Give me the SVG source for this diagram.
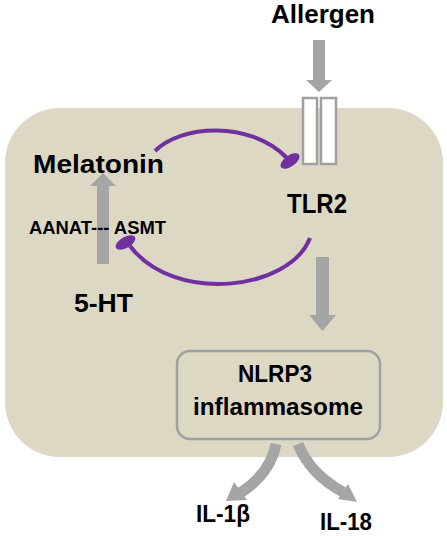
<svg xmlns="http://www.w3.org/2000/svg" width="447" height="536" viewBox="0 0 447 536">
<style>
text{font-family:"Liberation Sans",Arial,sans-serif;font-weight:bold;fill:#000;}
.gray{fill:#A5A5A5;}
.inh{fill:none;stroke:#7030A0;stroke-width:4;}
.head{fill:#7030A0;}
.box{fill:#DDD8C4;stroke:#A0A0A0;stroke-width:2.5;}
.rec{fill:#fff;stroke:#A0A0A0;stroke-width:2.5;}
.cshaft{fill:none;stroke:#A5A5A5;stroke-width:11;}
</style>
<rect id="cell" x="5" y="108" width="438" height="349" rx="55" ry="55" fill="#DDD8C4"/>
<g id="tlr2-receptor">
<rect class="rec" x="303" y="98" width="14" height="66"/>
<rect class="rec" x="321" y="98" width="15" height="66"/>
</g>
<g id="allergen"><text x="271" y="23" font-size="26" textLength="104" lengthAdjust="spacingAndGlyphs">Allergen</text></g>
<g id="melatonin"><text x="33" y="173" font-size="25" textLength="131" lengthAdjust="spacingAndGlyphs">Melatonin</text></g>
<g id="tlr2"><text x="287" y="213" font-size="27" textLength="60" lengthAdjust="spacingAndGlyphs">TLR2</text></g>
<g id="ht5"><text x="74" y="312" font-size="26" textLength="59" lengthAdjust="spacingAndGlyphs">5-HT</text></g>
<g id="nlrp3">
<rect class="box" x="177" y="351" width="203" height="88" rx="13" ry="13"/>
<text x="238" y="382" font-size="24" textLength="74" lengthAdjust="spacingAndGlyphs">NLRP3</text>
<text x="193" y="415" font-size="24" textLength="170" lengthAdjust="spacingAndGlyphs">inflammasome</text>
</g>
<g id="il1b"><text x="196" y="522" font-size="24" textLength="54" lengthAdjust="spacingAndGlyphs">IL-1β</text></g>
<g id="il18"><text x="320" y="530" font-size="24" textLength="52" lengthAdjust="spacingAndGlyphs">IL-18</text></g>
<g id="connectors">
<polygon class="gray" points="313,40 325,40 325,80 332,80 319,92 306,80 313,80"/>
<polygon class="gray" points="97,264 109,264 109,186 116,186 103,173 90,186 97,186"/>
<polygon class="gray" points="316,257 329,257 329,315 336,315 322.5,331 309,315 316,315"/>
<path class="cshaft" d="M276,444 Q270,474 240,493"/>
<polygon class="gray" points="226,501 234,482 247,500"/>
<path class="cshaft" d="M298,444 Q310,474 343,492"/>
<polygon class="gray" points="357,502 338,499 348,484"/>
<path class="inh" d="M155,151 C180,125 250,120 287,158"/>
<ellipse class="head" cx="290" cy="161" rx="11" ry="5.5" transform="rotate(-35 290 161)"/>
<path class="inh" d="M310,238 C290,290 175,305 130,246"/>
<ellipse class="head" cx="125.5" cy="242.5" rx="11" ry="5.5" transform="rotate(-30 125.5 242.5)"/>
</g>
<g id="enzymes"><text x="29" y="234" font-size="18" textLength="137" lengthAdjust="spacingAndGlyphs">AANAT--- ASMT</text></g>
</svg>
